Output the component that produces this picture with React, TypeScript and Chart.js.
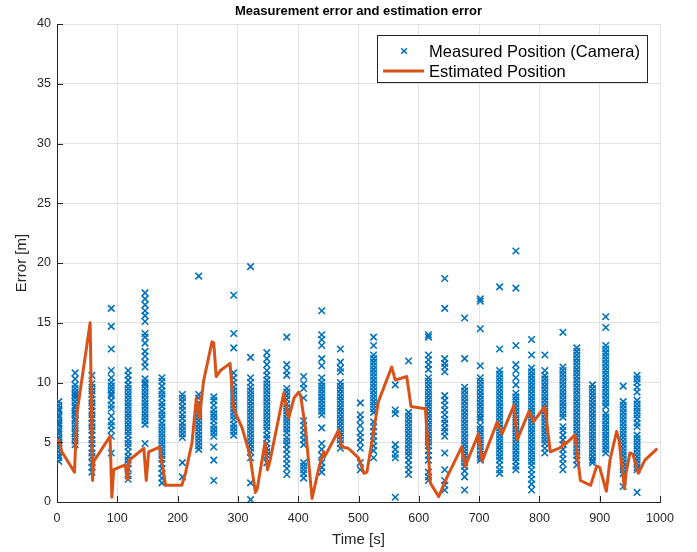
import { useEffect, useRef } from 'react';
import { Chart, registerables } from 'chart.js';

Chart.register(...registerables);

const chartTitle = 'Measurement error and estimation error';
const xLabel = 'Time [s]';
const yLabel = 'Error [m]';
const measLabel = 'Measured Position (Camera)';
const estLabel = 'Estimated Position';

const xTickValues = [0, 100, 200, 300, 400, 500, 600, 700, 800, 900, 1000];
const yTickValues = [0, 5, 10, 15, 20, 25, 30, 35, 40];

// burst times of camera measurements [s]
const measTimes = [3, 30, 58, 90, 118, 146, 174, 208, 235, 260, 293, 321, 348, 381, 409, 439, 470, 503, 525, 561, 583, 616, 643, 676, 702, 734, 761, 787, 809, 839, 862, 888, 910, 939, 962];

// measurement errors [m] within each burst
const measErrors = [
  [8.4, 8.1, 7.8, 7.6, 7.3, 7.1, 6.8, 6.6, 6.4, 6.1, 5.9, 5.7, 5.4, 5.2, 4.9, 4.7, 4.5, 4.2, 3.9, 3.7, 3.4, 7.7, 6.5, 5.0],
  [10.8, 10.3, 9.8, 9.5, 9.2, 8.9, 8.7, 8.4, 8.1, 7.9, 7.6, 7.3, 7.0, 6.8, 6.5, 6.2, 5.9, 5.7, 5.4, 5.1, 4.8, 9.0, 7.4],
  [10.6, 9.9, 9.6, 9.3, 9.0, 8.6, 8.3, 8.0, 7.6, 7.3, 7.0, 6.6, 6.3, 6.0, 5.6, 5.2, 4.9, 4.5, 4.1, 3.8, 3.3, 2.9, 2.5],
  [16.2, 14.7, 12.8, 11.0, 10.4, 10.0, 9.7, 9.4, 9.1, 8.9, 8.5, 8.1, 7.8, 7.2, 6.7, 6.4, 6.0, 5.5, 4.1],
  [11.0, 10.6, 10.2, 9.8, 9.5, 9.2, 8.9, 8.6, 8.3, 8.0, 7.7, 7.4, 7.1, 6.8, 6.5, 6.2, 5.9, 5.6, 5.2, 4.9, 4.6, 4.2, 3.8, 3.5, 3.2, 2.8, 2.2, 1.9],
  [17.5, 17.0, 16.5, 16.0, 15.6, 15.1, 14.1, 13.8, 13.3, 12.6, 12.2, 11.7, 11.3, 10.3, 10.0, 9.8, 9.5, 9.2, 8.9, 8.6, 8.3, 8.0, 7.7, 7.4, 7.1, 6.8, 6.5, 4.9],
  [10.4, 10.1, 9.7, 9.3, 9.0, 8.7, 8.3, 8.0, 7.6, 7.3, 7.0, 6.6, 6.3, 6.0, 5.7, 5.4, 5.1, 4.8, 4.5, 4.2, 3.9, 3.6, 3.2, 2.8, 2.4, 2.0, 1.6],
  [9.0, 8.7, 8.4, 8.0, 7.7, 7.3, 7.0, 6.6, 6.3, 6.0, 5.7, 5.4, 3.3, 2.1],
  [18.9, 9.0, 8.7, 8.3, 8.0, 7.7, 7.4, 7.1, 6.8, 6.5, 6.2, 5.9, 5.6, 5.3, 5.0, 4.7, 4.4],
  [8.8, 8.5, 8.1, 7.7, 7.4, 7.1, 6.8, 6.4, 6.1, 5.8, 5.5, 4.6, 3.5, 1.8],
  [17.3, 14.1, 12.9, 10.8, 10.4, 10.0, 9.6, 9.3, 9.0, 8.7, 8.4, 8.1, 7.8, 7.5, 7.2, 6.9, 6.5, 6.2, 5.9, 5.6],
  [19.7, 12.1, 10.4, 10.0, 9.6, 9.3, 9.0, 8.7, 8.4, 8.1, 7.8, 7.5, 7.2, 6.9, 6.6, 6.3, 6.0, 5.7, 5.4, 5.1, 4.8, 4.5, 4.2, 3.7, 1.6, 0.2],
  [12.5, 12.0, 11.5, 11.0, 10.6, 10.2, 9.9, 9.6, 9.3, 9.0, 8.7, 8.4, 8.1, 7.8, 7.5, 7.2, 6.9, 6.6, 6.3, 6.0, 5.6, 5.3, 4.9, 4.5, 4.2, 3.9, 3.3],
  [13.8, 11.5, 11.0, 10.6, 9.5, 9.2, 8.9, 8.6, 8.2, 7.9, 7.6, 7.3, 7.0, 6.7, 6.4, 6.1, 5.8, 5.4, 5.1, 4.8, 4.4, 4.0, 3.6, 3.2, 2.8, 2.3],
  [10.5, 9.9, 9.5, 8.7, 6.8, 6.4, 6.0, 5.6, 5.2, 4.8, 3.3, 3.0, 2.7, 2.4, 2.0],
  [16.0, 14.0, 13.6, 13.1, 12.0, 11.4, 10.4, 10.0, 9.7, 9.4, 9.1, 8.8, 8.5, 8.2, 7.9, 7.6, 7.3, 6.2, 4.9, 4.4, 3.9, 3.3, 2.9, 2.5],
  [12.8, 11.7, 11.2, 10.9, 10.0, 9.7, 9.4, 9.1, 8.8, 8.5, 8.2, 7.9, 7.6, 7.3, 7.0, 6.7, 6.4, 6.1, 5.8, 5.5, 5.2, 4.9, 4.5],
  [8.3, 7.3, 6.9, 6.4, 5.8, 5.4, 5.0, 4.5, 3.3, 2.7],
  [13.8, 13.1, 12.3, 12.0, 11.7, 11.4, 11.1, 10.8, 10.5, 10.2, 9.9, 9.6, 9.3, 9.0, 8.7, 8.4, 8.1, 7.8, 7.5, 6.7, 6.3, 5.9, 5.5, 5.1, 4.7, 4.3, 3.7],
  [9.8, 7.7, 7.4, 4.8, 4.4, 4.0, 3.7, 0.4],
  [11.8, 7.5, 7.2, 6.9, 6.6, 6.3, 6.0, 5.7, 5.4, 5.1, 4.8, 4.5, 4.2, 3.9, 3.5, 3.1, 2.7, 2.3],
  [14.0, 13.8, 12.3, 11.9, 11.5, 11.1, 10.4, 10.1, 9.8, 9.5, 9.2, 8.9, 8.6, 8.3, 8.0, 7.7, 7.4, 7.1, 6.8, 6.5, 6.2, 5.9, 5.6, 5.3, 5.0, 4.7, 4.3, 3.9, 3.5, 2.5, 2.1, 1.8],
  [18.7, 16.2, 12.0, 11.6, 11.3, 10.9, 8.9, 8.5, 8.1, 7.7, 7.3, 6.9, 6.6, 6.2, 5.9, 5.5, 4.1, 2.7, 1.8, 1.4, 1.0],
  [15.4, 12.0, 9.6, 9.3, 9.0, 8.7, 8.4, 8.1, 7.8, 7.5, 7.2, 6.9, 6.6, 6.3, 6.0, 5.7, 5.4, 5.1, 4.8, 4.5, 4.2, 3.9, 3.6, 3.3, 3.0, 2.6, 2.1, 1.0],
  [17.0, 16.8, 14.5, 11.4, 10.4, 10.1, 9.8, 9.5, 9.2, 8.9, 8.6, 8.3, 8.0, 7.7, 7.4, 7.1, 6.9, 6.4, 6.1, 5.8, 5.5, 5.2, 4.9, 4.6, 4.3, 4.0, 3.7, 3.5],
  [18.0, 12.8, 11.0, 10.7, 10.4, 10.1, 9.8, 9.5, 9.2, 8.9, 8.6, 8.3, 8.0, 7.7, 7.4, 7.1, 6.8, 6.5, 6.2, 5.9, 5.6, 5.3, 5.0, 4.7, 4.4, 4.1, 3.8, 3.5, 3.1, 2.7, 2.4],
  [21.0, 17.9, 13.1, 11.5, 11.0, 10.4, 9.8, 9.1, 8.8, 8.5, 8.2, 7.9, 7.6, 7.3, 7.0, 6.7, 6.4, 6.1, 5.8, 5.5, 5.2, 4.9, 4.6, 4.3, 4.0, 3.7, 3.4, 3.0, 2.7],
  [13.6, 12.3, 11.2, 10.9, 10.6, 10.3, 10.0, 9.7, 9.4, 9.1, 8.8, 8.5, 8.2, 7.9, 7.6, 7.3, 7.0, 6.7, 6.4, 6.1, 5.8, 5.5, 5.2, 4.9, 4.6, 4.3, 4.0, 3.7, 3.4, 3.1, 2.7, 2.3, 1.9, 1.5, 1.0],
  [12.3, 11.0, 10.6, 10.3, 10.0, 9.7, 9.4, 9.1, 8.8, 8.5, 8.2, 7.9, 7.6, 7.3, 7.0, 6.7, 6.4, 6.1, 5.8, 5.5, 5.2, 4.9, 4.5, 4.1],
  [14.2, 11.3, 11.0, 10.7, 10.4, 10.1, 9.8, 9.5, 9.2, 8.9, 8.6, 8.3, 8.0, 7.7, 7.4, 7.1, 6.3, 6.0, 5.6, 5.2, 4.8, 4.4, 4.0, 3.6, 3.2, 2.7],
  [12.9, 12.6, 12.3, 12.0, 11.7, 11.4, 11.1, 10.8, 10.5, 10.2, 9.9, 9.6, 9.3, 9.0, 8.7, 8.4, 8.1, 7.8, 7.5, 7.2, 6.9, 6.6, 6.3, 6.0, 5.7, 5.4, 5.1, 4.8, 4.5, 4.2, 3.9, 3.5, 3.1],
  [9.8, 9.5, 9.2, 8.9, 8.6, 8.3, 8.0, 7.7, 7.4, 7.1, 6.8, 6.5, 6.2, 5.9, 5.6, 5.3, 5.0, 4.7, 4.4, 4.1, 3.8, 3.5, 3.3],
  [15.5, 14.6, 13.1, 12.8, 12.5, 12.2, 11.9, 11.6, 11.3, 11.0, 10.7, 10.4, 10.1, 9.8, 9.5, 9.2, 8.9, 8.6, 8.3, 8.0, 7.4, 7.1, 6.8, 6.5, 6.2, 5.9, 5.6, 5.3, 5.0, 4.7, 4.4, 4.1],
  [9.7, 8.4, 8.1, 7.8, 7.5, 7.2, 6.9, 6.6, 6.3, 6.0, 5.7, 5.4, 5.1, 4.8, 4.5, 4.2, 3.9, 3.6, 3.3, 3.0, 2.7, 2.4, 1.3],
  [10.6, 10.3, 10.0, 9.6, 9.2, 8.5, 8.2, 7.9, 7.6, 7.3, 7.0, 6.6, 6.3, 5.6, 5.3, 5.0, 4.7, 4.4, 4.1, 3.8, 3.5, 3.2, 2.9, 2.7, 0.8],
];

// estimation error line
const estTimes = [3, 8, 29, 33, 55, 59, 61, 88, 91, 94, 113, 117, 120, 144, 148, 152, 170, 180, 207, 213, 224, 231, 236, 243, 257, 260, 264, 271, 287, 293, 307, 320, 329, 332, 345, 349, 353, 376, 384, 393, 401, 404, 412, 423, 434, 442, 444, 467, 472, 483, 500, 509, 514, 522, 533, 555, 561, 580, 587, 611, 619, 633, 647, 671, 677, 699, 705, 730, 738, 758, 763, 783, 790, 809, 818, 837, 840, 842, 859, 868, 885, 895, 900, 911, 917, 928, 932, 941, 944, 950, 955, 964, 975, 994];
const estErrors = [5.2, 4.2, 2.5, 7.4, 15.0, 1.8, 3.4, 5.5, 0.4, 2.7, 3.1, 1.9, 3.5, 4.5, 1.8, 4.2, 4.6, 1.4, 1.4, 2.4, 5.0, 8.7, 7.0, 10.1, 13.4, 13.3, 10.5, 11.0, 11.6, 7.8, 6.2, 3.9, 0.8, 1.1, 5.0, 2.7, 3.4, 9.1, 7.0, 8.7, 9.2, 8.9, 6.2, 0.3, 2.8, 4.2, 3.8, 6.0, 4.6, 4.5, 3.7, 2.4, 2.5, 5.0, 8.4, 11.3, 10.2, 10.5, 8.0, 7.8, 1.6, 0.45, 2.1, 4.6, 3.0, 5.7, 3.4, 6.7, 5.7, 8.1, 5.2, 7.6, 6.7, 8.0, 4.2, 4.6, 5.0, 4.8, 5.6, 1.8, 1.4, 3.0, 2.9, 0.9, 3.5, 5.9, 5.2, 1.1, 2.5, 4.1, 4.0, 2.4, 3.5, 4.4];

const BLUE = '#0072BD';
const ORANGE = '#D95319';
const TEXT = '#262626';
const GRID = '#e3e3e3';
const FONT = "'Liberation Sans', Arial, Helvetica, sans-serif";

const decorPlugin = {
  id: 'matlabDecor',
  afterDatasetsDraw(chart: any) {
    const { ctx, chartArea, scales } = chart;
    const xs = scales.x;
    const ys = scales.y;
    ctx.save();
    // inward tick marks
    ctx.strokeStyle = TEXT;
    ctx.lineWidth = 1;
    const tl = 6;
    xTickValues.forEach((v) => {
      const px = Math.round(xs.getPixelForValue(v)) + 0.5;
      ctx.beginPath();
      ctx.moveTo(px, chartArea.bottom);
      ctx.lineTo(px, chartArea.bottom - tl);
      ctx.stroke();
    });
    yTickValues.forEach((v) => {
      const py = Math.round(ys.getPixelForValue(v)) + 0.5;
      ctx.beginPath();
      ctx.moveTo(chartArea.left, py);
      ctx.lineTo(chartArea.left + tl, py);
      ctx.stroke();
    });

    // title
    ctx.fillStyle = '#000000';
    ctx.font = `bold 13px ${FONT}`;
    ctx.textAlign = 'center';
    ctx.textBaseline = 'middle';
    ctx.fillText(chartTitle, (chartArea.left + chartArea.right) / 2, chartArea.top - 13);

    // legend
    const fs = 16.5;
    ctx.font = `${fs}px ${FONT}`;
    const tw = Math.max(ctx.measureText(measLabel).width, ctx.measureText(estLabel).width);
    const boxRight = chartArea.right - 13;
    const boxTop = chartArea.top + 11;
    const boxW = 52 + tw + 7;
    const boxH = 47;
    const boxLeft = boxRight - boxW;
    ctx.fillStyle = '#ffffff';
    ctx.fillRect(boxLeft, boxTop, boxW, boxH);
    ctx.strokeStyle = TEXT;
    ctx.lineWidth = 1;
    ctx.strokeRect(Math.round(boxLeft) + 0.5, Math.round(boxTop) + 0.5, Math.round(boxW), Math.round(boxH));
    const row1 = boxTop + 16;
    const row2 = boxTop + 36;
    // marker
    const mx = boxLeft + 27;
    const r = 2.8;
    ctx.strokeStyle = BLUE;
    ctx.lineWidth = 1.6;
    ctx.beginPath();
    ctx.moveTo(mx - r, row1 - r);
    ctx.lineTo(mx + r, row1 + r);
    ctx.moveTo(mx - r, row1 + r);
    ctx.lineTo(mx + r, row1 - r);
    ctx.stroke();
    // line sample
    ctx.strokeStyle = ORANGE;
    ctx.lineWidth = 3;
    ctx.beginPath();
    ctx.moveTo(boxLeft + 6, row2);
    ctx.lineTo(boxLeft + 47, row2);
    ctx.stroke();
    ctx.fillStyle = '#000000';
    ctx.textAlign = 'left';
    ctx.textBaseline = 'middle';
    ctx.fillText(measLabel, boxLeft + 52, row1 + 1);
    ctx.fillText(estLabel, boxLeft + 52, row2 + 1);
    ctx.restore();
  },
};

export default function App() {
  const canvasRef = useRef<HTMLCanvasElement | null>(null);

  useEffect(() => {
    document.body.style.margin = '0';
    const canvas = canvasRef.current;
    if (!canvas) return;

    const measPoints: { x: number; y: number }[] = [];
    measTimes.forEach((t, i) => {
      measErrors[i].forEach((e) => measPoints.push({ x: t, y: e }));
    });
    const estPoints = estTimes.map((t, i) => ({ x: t, y: estErrors[i] }));

    const chart = new Chart(canvas, {
      type: 'scatter',
      data: {
        datasets: [
          {
            label: estLabel,
            data: estPoints,
            showLine: true,
            borderColor: ORANGE,
            backgroundColor: ORANGE,
            borderWidth: 3,
            pointRadius: 0,
            tension: 0,
            borderJoinStyle: 'round',
            borderCapStyle: 'round',
            order: 0,
          } as any,
          {
            label: measLabel,
            data: measPoints,
            pointStyle: 'crossRot',
            pointRadius: 4.6,
            borderColor: BLUE,
            backgroundColor: BLUE,
            pointBorderWidth: 1.6,
            borderWidth: 1.6,
            order: 1,
          } as any,
        ],
      },
      options: {
        responsive: false,
        animation: false,
        events: [],
        layout: { padding: { top: 24, right: 37, left: 0, bottom: 0 } },
        plugins: {
          legend: { display: false },
          tooltip: { enabled: false },
          title: { display: false },
        },
        scales: {
          x: {
            type: 'linear',
            min: 0,
            max: 1000,
            afterBuildTicks: (scale: any) => {
              scale.ticks = xTickValues.map((v) => ({ value: v }));
            },
            afterFit: (scale: any) => {
              scale.height = 50;
            },
            ticks: {
              color: TEXT,
              font: { family: FONT, size: 12.5 },
              padding: 9,
              maxRotation: 0,
              autoSkip: false,
              callback: (v: any) => String(v),
            },
            grid: { color: GRID, drawTicks: false, lineWidth: 1 },
            border: { display: true, color: TEXT, width: 1 },
            title: {
              display: true,
              text: xLabel,
              color: TEXT,
              font: { family: FONT, size: 15 },
              padding: { top: 0, bottom: 3 },
            },
          },
          y: {
            type: 'linear',
            min: 0,
            max: 40,
            afterBuildTicks: (scale: any) => {
              scale.ticks = yTickValues.map((v) => ({ value: v }));
            },
            afterFit: (scale: any) => {
              scale.width = 57;
            },
            ticks: {
              color: TEXT,
              font: { family: FONT, size: 12.5 },
              padding: 6,
              autoSkip: false,
              callback: (v: any) => String(v),
            },
            grid: { color: GRID, drawTicks: false, lineWidth: 1 },
            border: { display: true, color: TEXT, width: 1 },
            title: {
              display: true,
              text: yLabel,
              color: TEXT,
              font: { family: FONT, size: 15 },
              padding: { top: 13, bottom: 0 },
            },
          },
        },
      } as any,
      plugins: [decorPlugin],
    });

    return () => {
      chart.destroy();
    };
  }, []);

  return (
    <div style={{ width: 697, height: 552 }}>
      <canvas ref={canvasRef} width={697} height={552} style={{ display: 'block' }} />
    </div>
  );
}
